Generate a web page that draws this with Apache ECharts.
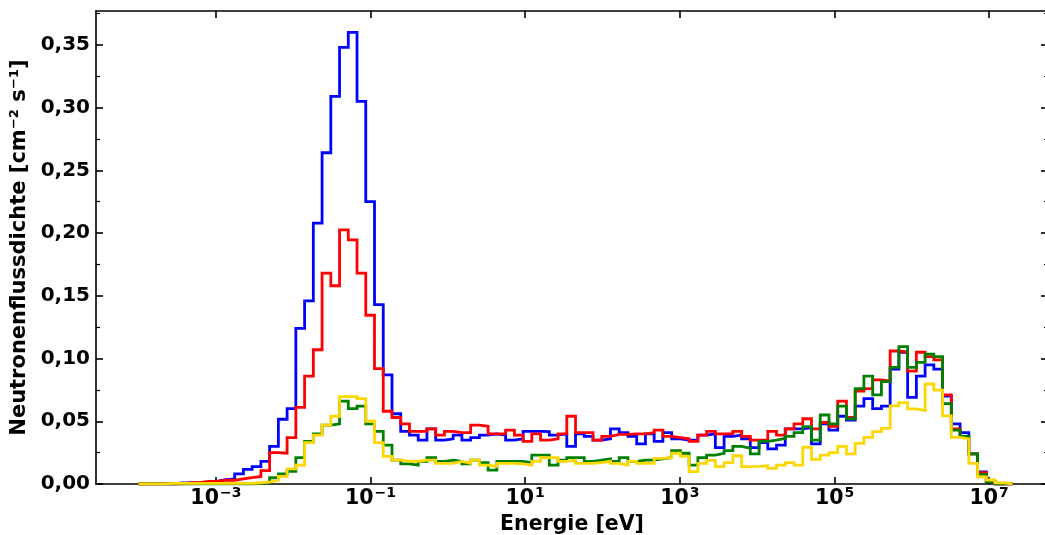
<!DOCTYPE html>
<html><head><meta charset="utf-8">
<script src="https://cdn.jsdelivr.net/npm/echarts@6/dist/echarts.min.js"></script>
<style>html,body{margin:0;padding:0;background:#fff}#c{width:1045px;height:535px}</style>
</head><body><div id="c"></div>
<script>
// Histogram binning: 100 log-uniform bins from 1e-4 eV to 2e7 eV
const E_MIN = 1e-4, E_MAX = 2e7, N_BINS = 100;
const xTickExponents = [-3, -1, 1, 3, 5, 7];
const yTicks = [0, 0.05, 0.10, 0.15, 0.20, 0.25, 0.30, 0.35];
const yMinorTicks = [0.025, 0.075, 0.125, 0.175, 0.225, 0.275, 0.325, 0.375];

const blue = [0,0,0,0,0.0008,0.0008,0.001,0.0015,0.002,0.0035,
  0.004,0.008,0.0117,0.0138,0.018,0.030,0.0516,0.060,0.124,0.146,
  0.208,0.264,0.309,0.348,0.360,0.305,0.225,0.143,0.087,0.056,
  0.042,0.039,0.035,0.044,0.035,0.036,0.039,0.035,0.037,0.039,
  0.040,0.039,0.035,0.036,0.042,0.042,0.0417,0.039,0.040,0.030,
  0.040,0.038,0.035,0.036,0.044,0.041,0.038,0.032,0.040,0.034,
  0.041,0.036,0.035,0.035,0.039,0.040,0.029,0.038,0.039,0.036,
  0.029,0.033,0.028,0.031,0.044,0.044,0.045,0.032,0.048,0.043,
  0.054,0.051,0.062,0.068,0.060,0.062,0.0915,0.105,0.069,0.086,
  0.095,0.0915,0.070,0.048,0.041,0.024,0.0096,0.002,0,0];
const red = [0,0,0,0,0,0.001,0.001,0.002,0.002,0.003,
  0.003,0.004,0.005,0.006,0.0106,0.025,0.0245,0.037,0.061,0.086,
  0.107,0.168,0.158,0.2025,0.1945,0.168,0.1345,0.092,0.058,0.053,
  0.048,0.042,0.042,0.044,0.039,0.042,0.041,0.041,0.047,0.046,
  0.040,0.040,0.043,0.039,0.034,0.040,0.035,0.036,0.040,0.054,
  0.041,0.041,0.035,0.038,0.0395,0.0395,0.040,0.040,0.041,0.043,
  0.038,0.037,0.036,0.034,0.039,0.042,0.040,0.040,0.042,0.038,
  0.035,0.035,0.042,0.039,0.044,0.048,0.052,0.044,0.049,0.046,
  0.066,0.053,0.074,0.076,0.083,0.082,0.106,0.105,0.090,0.105,
  0.1015,0.099,0.071,0.044,0.038,0.024,0.009,0.002,0,0];
const green = [0,0,0,0,0,0,0,0,0,0,
  0,0,0,0.0005,0.001,0.005,0.008,0.010,0.021,0.034,
  0.040,0.047,0.048,0.066,0.060,0.062,0.048,0.042,0.031,0.019,
  0.016,0.015,0.018,0.021,0.018,0.019,0.018,0.016,0.019,0.017,
  0.011,0.018,0.018,0.018,0.017,0.023,0.023,0.015,0.019,0.021,
  0.021,0.018,0.019,0.020,0.018,0.021,0.018,0.019,0.019,0.020,
  0.021,0.0265,0.0245,0.015,0.021,0.023,0.0245,0.0266,0.030,0.0285,
  0.024,0.034,0.035,0.0364,0.038,0.041,0.0457,0.035,0.055,0.048,
  0.062,0.052,0.076,0.086,0.071,0.0816,0.093,0.1095,0.093,0.097,
  0.1035,0.1015,0.064,0.043,0.038,0.024,0.0077,0.002,0,0];
const yellow = [0,0,0,0.0005,0.0005,0.0005,0.0005,0.0005,0.0005,0.0005,
  0.0005,0.0005,0.0005,0.001,0.0015,0.003,0.006,0.012,0.015,0.033,
  0.039,0.047,0.054,0.0696,0.0696,0.068,0.050,0.033,0.022,0.019,
  0.018,0.018,0.019,0.019,0.0165,0.0165,0.018,0.0165,0.019,0.015,
  0.014,0.0165,0.0165,0.016,0.015,0.018,0.021,0.021,0.018,0.019,
  0.0164,0.0164,0.017,0.018,0.0164,0.015,0.018,0.0164,0.0164,0.0205,
  0.021,0.0245,0.022,0.0098,0.0165,0.0188,0.0138,0.017,0.0225,0.0138,
  0.014,0.0145,0.0125,0.015,0.017,0.015,0.0293,0.0196,0.023,0.025,
  0.030,0.024,0.0324,0.0372,0.0417,0.0444,0.0622,0.0648,0.0598,0.0585,
  0.0797,0.0749,0.0543,0.0372,0.036,0.0165,0.0056,0.0032,0.001,0];

const lo = Math.log10(E_MIN), hi = Math.log10(E_MAX);
const edges = [];
for (let k = 0; k <= N_BINS; k++) edges.push(lo + (hi - lo) * k / N_BINS);
function steps(vals) {
  const pts = [[edges[0], 0]];
  vals.forEach((v, i) => { pts.push([edges[i], v]); pts.push([edges[i + 1], v]); });
  pts.push([edges[N_BINS], 0]);
  return pts;
}

const FONT = 'DejaVu Sans';
const FS = 20.5;
const X_MIN = -4.55, X_MAX = 7.76, Y_MIN = 0, Y_MAX = 0.377;
const tickLine = { color: '#000', width: 1.6 };
const minorLine = { color: '#000', width: 1.2 };

function supLabel(v) {
  const e = v < 0 ? '\u2212' + Math.abs(v) : String(v);
  return '{b|10}{s|' + e + '}';
}
const richX = {
  b: { fontFamily: FONT, fontWeight: 'bold', fontSize: FS, color: '#000', verticalAlign: 'bottom', lineHeight: 24 },
  s: { fontFamily: FONT, fontWeight: 'bold', fontSize: 14, color: '#000', verticalAlign: 'bottom', lineHeight: 24, padding: [0, 0, 9, 1] }
};

const chart = echarts.init(document.getElementById('c'), null, { renderer: 'canvas' });
const mk = (name, data, color, z) => ({
  name, type: 'line', data: steps(data), xAxisIndex: 0, yAxisIndex: 0,
  showSymbol: false, symbol: 'none', z,
  lineStyle: { color, width: 2.8, join: 'miter', cap: 'butt' },
  emphasis: { disabled: true }, animation: false
});
const noLine = { show: false, onZero: false };
const frameLine = { show: true, onZero: false, lineStyle: { color: '#000', width: 1.6 } };

chart.setOption({
  animation: false,
  backgroundColor: '#fff',
  grid: { left: 96, right: -3, top: 11, bottom: 51, containLabel: false, outerBoundsMode: 'none' },
  xAxis: [
    { type: 'value', position: 'bottom', min: X_MIN, max: X_MAX,
      name: 'Energie [eV]', nameLocation: 'middle', nameGap: 29,
      nameTextStyle: { fontFamily: FONT, fontWeight: 'bold', fontSize: FS, color: '#000' },
      axisLine: frameLine,
      axisTick: { show: true, inside: true, length: 7, lineStyle: tickLine, customValues: xTickExponents },
      axisLabel: { show: true, margin: 1, customValues: xTickExponents, formatter: supLabel, rich: richX },
      splitLine: { show: false }, minorTick: { show: false } },
    { type: 'value', position: 'top', min: X_MIN, max: X_MAX,
      axisLine: frameLine,
      axisTick: { show: true, inside: true, length: 7, lineStyle: tickLine, customValues: xTickExponents },
      axisLabel: { show: false }, splitLine: { show: false } }
  ],
  yAxis: [
    { type: 'value', position: 'left', min: Y_MIN, max: Y_MAX,
      name: 'Neutronenflussdichte [cm\u207B\u00B2 s\u207B\u00B9]', nameLocation: 'middle', nameRotate: 90, nameGap: 56,
      nameTextStyle: { fontFamily: FONT, fontWeight: 'bold', fontSize: 21, color: '#000' },
      axisLine: frameLine,
      axisTick: { show: true, inside: true, length: 7, lineStyle: tickLine, customValues: yTicks },
      axisLabel: { show: true, margin: 6, customValues: yTicks,
        formatter: v => v.toFixed(2).replace('.', ','),
        fontFamily: FONT, fontWeight: 'bold', fontSize: 20, color: '#000' },
      splitLine: { show: false } },
    { type: 'value', position: 'left', min: Y_MIN, max: Y_MAX,
      axisLine: noLine,
      axisTick: { show: true, inside: true, length: 4, lineStyle: minorLine, customValues: yMinorTicks },
      axisLabel: { show: false }, splitLine: { show: false } },
    { type: 'value', position: 'right', min: Y_MIN, max: Y_MAX,
      axisLine: frameLine,
      axisTick: { show: true, inside: true, length: 7, lineStyle: tickLine, customValues: yTicks },
      axisLabel: { show: false }, splitLine: { show: false } },
    { type: 'value', position: 'right', min: Y_MIN, max: Y_MAX,
      axisLine: noLine,
      axisTick: { show: true, inside: true, length: 4, lineStyle: minorLine, customValues: yMinorTicks },
      axisLabel: { show: false }, splitLine: { show: false } }
  ],
  series: [
    mk('blau', blue, '#0000ff', 2),
    mk('rot', red, '#ff0000', 3),
    mk('grün', green, '#008000', 4),
    mk('gelb', yellow, '#ffd700', 5)
  ]
});
</script>
</body></html>
